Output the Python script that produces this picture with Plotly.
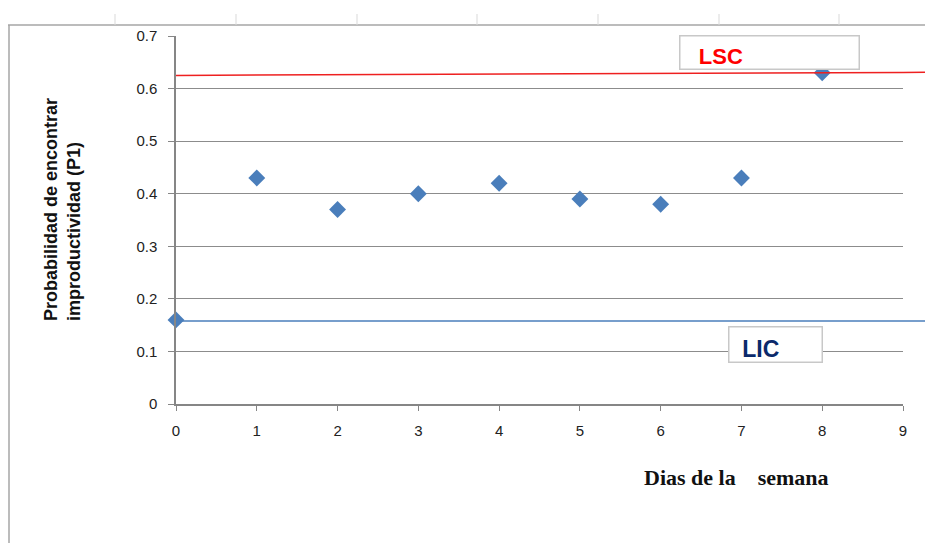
import plotly.graph_objects as go

# ---- data ----
dias = [0, 1, 2, 3, 4, 5, 6, 7, 8]
p1 = [0.16, 0.43, 0.37, 0.40, 0.42, 0.39, 0.38, 0.43, 0.63]
lsc = [0.625, 0.631]   # upper control limit (left end, right end)
lic = [0.158, 0.158]   # lower control limit
x_ticks = [0, 1, 2, 3, 4, 5, 6, 7, 8, 9]
y_ticks = [0, 0.1, 0.2, 0.3, 0.4, 0.5, 0.6, 0.7]

# page body has an 8px margin; work in screen pixels and convert
OFF = 8
W, H = 933 - OFF, 543 - OFF
L = 176 - OFF
T = 36 - OFF
R = W - (903 - OFF)
B = H - (404 - OFF)
pw, ph = W - L - R, H - T - B


def px(x):
    return (x - OFF - L) / pw


def py(y):
    return (H - B - (y - OFF)) / ph


fig = go.Figure()
fig.add_trace(go.Scatter(
    x=dias, y=p1, mode="markers",
    marker=dict(symbol="diamond", size=13, color="#4a7ebb"),
    cliponaxis=False, showlegend=False,
))

x_right = 9 * (933 - 176) / (903 - 176)
lsc_at9 = lsc[0] + (lsc[1] - lsc[0]) * 9 / x_right

shapes = []
shapes.append(dict(type="line", xref="x", yref="y", x0=0, x1=9, y0=lsc[0], y1=lsc_at9,
                   line=dict(color="#ee2020", width=1.5), layer="above"))
shapes.append(dict(type="line", xref="paper", yref="y", x0=1.0, x1=px(933),
                   y0=lsc_at9, y1=lsc[1],
                   line=dict(color="#ee2020", width=1.5), layer="below"))
shapes.append(dict(type="line", xref="paper", yref="y", x0=0, x1=px(933),
                   y0=lic[0], y1=lic[1],
                   line=dict(color="#4a7ebb", width=1.5), layer="below"))
# chart frame (Excel-like border)
shapes.append(dict(type="line", xref="paper", yref="paper", x0=px(8), x1=px(933),
                   y0=py(25), y1=py(25), line=dict(color="#a6a6a6", width=1.5)))
shapes.append(dict(type="line", xref="paper", yref="paper", x0=px(9), x1=px(9),
                   y0=py(25), y1=py(543), line=dict(color="#a6a6a6", width=1.5)))
for tx in [115, 236, 357, 477, 598, 719, 839]:
    shapes.append(dict(type="line", xref="paper", yref="paper", x0=px(tx), x1=px(tx),
                       y0=py(14), y1=py(25), line=dict(color="#d9d9d9", width=1)))

annotations = [
    dict(x=7.35, y=0.668, xref="x", yref="y", text="\u00a0\u00a0\u00a0<b>LSC</b>", showarrow=False,
         font=dict(family="Liberation Sans, Arial", size=22, color="#ff0000"),
         bgcolor="white", bordercolor="#c8c8c8", borderwidth=1.5, borderpad=0,
         width=178, height=32, align="left", valign="bottom",
         xanchor="center", yanchor="middle"),
    dict(x=7.42, y=0.113, xref="x", yref="y", text="\u00a0\u00a0<b>LIC</b>", showarrow=False,
         font=dict(family="Liberation Sans, Arial", size=23, color="#0b2a6b"),
         bgcolor="white", bordercolor="#c8c8c8", borderwidth=1.5, borderpad=0,
         width=92, height=34, align="left", valign="bottom",
         xanchor="center", yanchor="middle"),
    dict(x=px(62), y=py(209), xref="paper", yref="paper", textangle=-90,
         text="<b>Probabilidad de encontrar<br>improductividad (P1)</b>", align="left",
         showarrow=False, font=dict(family="Liberation Sans, Arial", size=18, color="#111111"),
         xanchor="center", yanchor="middle"),
    dict(x=px(736), y=py(477), xref="paper", yref="paper",
         text="<b>Dias de la\u00a0\u00a0\u00a0 semana</b>", showarrow=False,
         font=dict(family="Liberation Serif, Times New Roman", size=22, color="#111111"),
         xanchor="center", yanchor="middle"),
]

fig.update_layout(
    width=W, height=H,
    margin=dict(l=L, r=R, t=T, b=B),
    paper_bgcolor="white", plot_bgcolor="white",
    shapes=shapes, annotations=annotations,
    font=dict(family="Liberation Sans, Arial", size=15, color="#222222"),
    xaxis=dict(range=[0, 9], tickvals=x_ticks, ticks="outside", ticklen=5,
               tickcolor="#868686", showline=True, linecolor="#868686", linewidth=1.5,
               showgrid=False, zeroline=False, ticklabelstandoff=7,
               tickfont=dict(size=15)),
    yaxis=dict(range=[0, 0.7], tickvals=y_ticks, ticktext=[str(v) for v in y_ticks],
               ticks="outside", ticklen=6, tickcolor="#868686", showline=True,
               linecolor="#868686", linewidth=1.5, showgrid=True, gridcolor="#8c8c8c",
               gridwidth=1.2, zeroline=False, ticklabelstandoff=8,
               tickfont=dict(size=15)),
)

fig.write_html("out.html")
